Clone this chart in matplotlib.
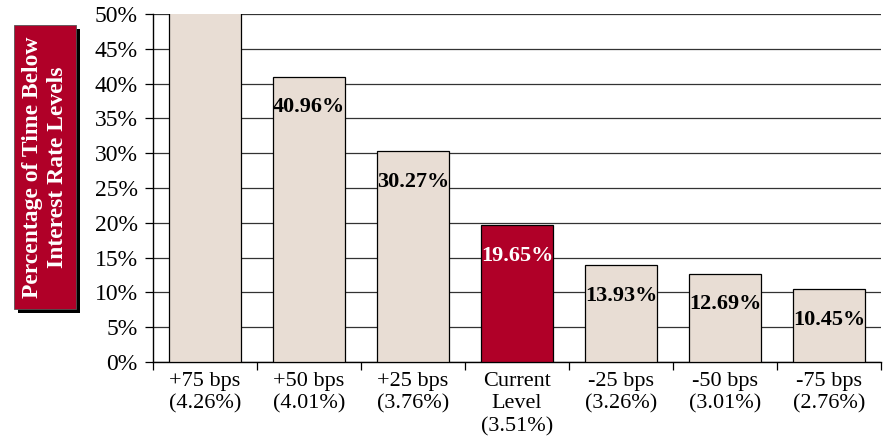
import matplotlib.pyplot as plt
from matplotlib.patches import Rectangle
from matplotlib.ticker import FixedLocator

plt.rcParams['font.family'] = ['Liberation Serif', 'DejaVu Serif']

# scenario labels and share of time below each rate level (%)
categories = ["+75 bps\n(4.26%)", "+50 bps\n(4.01%)", "+25 bps\n(3.76%)",
              "Current\nLevel\n(3.51%)", "-25 bps\n(3.26%)", "-50 bps\n(3.01%)",
              "-75 bps\n(2.76%)"]
values = [55.0, 40.96, 30.27, 19.65, 13.93, 12.69, 10.45]
show_label = [False, True, True, True, True, True, True]
current_idx = 3

beige = "#E8DDD4"
red = "#B00028"

fig = plt.figure(figsize=(8.87, 4.48), dpi=100)
ax = fig.add_axes([153/887, 86/448, 728/887, 348/448])

x = list(range(len(values)))
colors = [red if i == current_idx else beige for i in x]
ax.bar(x, values, width=0.7, color=colors, edgecolor="black", linewidth=0.9, zorder=3)

for i, v in enumerate(values):
    if not show_label[i]:
        continue
    ax.annotate(f"{v:.2f}%", (i, v), xytext=(0, -22), textcoords="offset points",
                ha="center", va="center", fontsize=16, fontweight="bold",
                color="white" if i == current_idx else "black", zorder=4)

ax.set_ylim(0, 50)
ax.set_xlim(-0.5, len(values) - 0.5)
ax.set_yticks(range(0, 51, 5))
ax.set_yticklabels([f"{t}%" for t in range(0, 51, 5)], fontsize=17)
ax.yaxis.grid(True, color="#333333", linewidth=0.9, zorder=0)
ax.tick_params(axis="y", length=6, width=0.9, pad=5)

ax.set_xticks(x)
ax.set_xticklabels(categories, fontsize=16, linespacing=1.25, va="top")
ax.tick_params(axis="x", which="major", length=0, pad=7)
ax.xaxis.set_minor_locator(FixedLocator([i - 0.5 for i in range(len(values) + 1)]))
ax.tick_params(axis="x", which="minor", length=6, width=0.9)

for s in ["top", "right"]:
    ax.spines[s].set_visible(False)
ax.spines["left"].set_linewidth(1.0)
ax.spines["bottom"].set_linewidth(1.0)

# boxed axis title with a drop shadow
fig.patches.append(Rectangle((18/887, (448-313)/448), 62/887, 284/448,
                             transform=fig.transFigure, facecolor="black", zorder=1))
fig.patches.append(Rectangle((14/887, (448-309)/448), 62/887, 284/448,
                             transform=fig.transFigure, facecolor=red,
                             edgecolor="#555555", linewidth=0.6, zorder=2))
fig.text(45/887, (448-167)/448, "Percentage of Time Below\nInterest Rate Levels",
         rotation=90, ha="center", va="center", color="white", fontsize=17,
         fontweight="bold", linespacing=1.25, zorder=3)

fig.savefig("out.png", dpi=100)
